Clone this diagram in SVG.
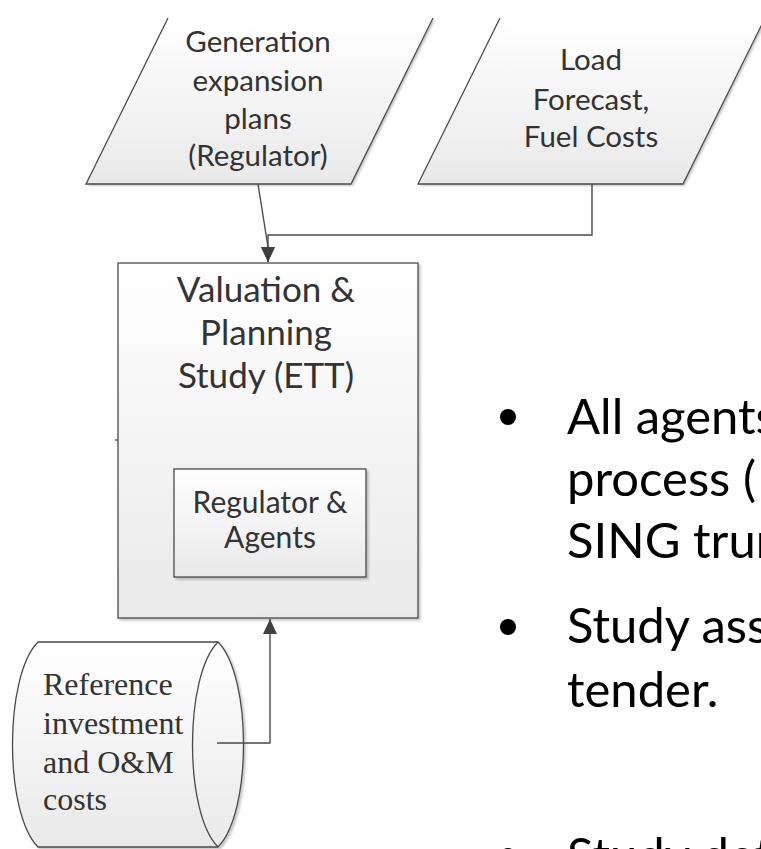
<svg xmlns="http://www.w3.org/2000/svg" width="761" height="849" viewBox="0 0 761 849">
  <style>
    .shape { stroke: #4a4a4a; stroke-width: 1.3; }
    .edge { fill: none; stroke: #4a4a4a; stroke-width: 1.3; }
    .lbl { font-family: Lato, "Open Sans", sans-serif; fill: #333; text-anchor: middle; }
    .p { font-size: 29.5px; }
    .big { font-size: 35px; }
    .mid { font-size: 30px; }
    .serif { font-family: "Liberation Serif", serif; font-size: 32px; fill: #333; }
    .bul { font-family: Lato, "Open Sans", sans-serif; font-size: 49px; fill: #000; }
    .conn { fill: none; stroke: #4a4a4a; stroke-width: 1.4; }
  </style>
  <defs>
    <linearGradient id="fillGrad" x1="0" y1="0" x2="0" y2="1">
      <stop offset="0" stop-color="#ffffff"/>
      <stop offset="1" stop-color="#e9e9e9"/>
    </linearGradient>
    <filter id="shadow" x="-10%" y="-10%" width="130%" height="130%">
      <feDropShadow dx="2" dy="2" stdDeviation="1" flood-color="#000" flood-opacity="0.22"/>
    </filter>
    <marker id="arrow" markerUnits="userSpaceOnUse" markerWidth="16" markerHeight="14" refX="15" refY="7" orient="auto">
      <path d="M0,0 L15,7 L0,14 z" fill="#404040"/>
    </marker>
  </defs>

  <rect width="761" height="849" fill="#fff"/>

  <!-- input: generation expansion plans -->
  <g id="gen-plans">
    <polygon points="168,18 433,18 351,184 86,184" fill="url(#fillGrad)" filter="url(#shadow)"/>
    <path class="edge" d="M168,18 L86,184 L351,184 L433,18"/>
    <text class="lbl p" x="258" y="52">Generation</text>
    <text class="lbl p" x="258" y="91">expansion</text>
    <text class="lbl p" x="258" y="129">plans</text>
    <text class="lbl p" x="258" y="166">(Regulator)</text>
  </g>

  <!-- input: load forecast and fuel costs -->
  <g id="load-fuel">
    <polygon points="500,18 765,18 683,184 418,184" fill="url(#fillGrad)" filter="url(#shadow)"/>
    <path class="edge" d="M500,18 L418,184 L683,184 L765,18"/>
    <text class="lbl p" x="591" y="70">Load</text>
    <text class="lbl p" x="591" y="110">Forecast,</text>
    <text class="lbl p" x="591" y="147">Fuel Costs</text>
  </g>

  <!-- process: valuation & planning study -->
  <g id="ett-study">
    <rect class="shape" x="118" y="263" width="300" height="355" fill="url(#fillGrad)" filter="url(#shadow)"/>
    <line x1="115" y1="440" x2="118" y2="440" stroke="#4a4a4a" stroke-width="1.3"/>
    <text class="lbl big" x="266" y="302">Valuation &amp;</text>
    <text class="lbl big" x="266" y="345">Planning</text>
    <text class="lbl big" x="266" y="388">Study (ETT)</text>
  </g>

  <g id="regulator-agents">
    <rect class="shape" x="174" y="469" width="192" height="108" fill="url(#fillGrad)" filter="url(#shadow)"/>
    <text class="lbl mid" x="270" y="513">Regulator &amp;</text>
    <text class="lbl mid" x="270" y="548">Agents</text>
  </g>

  <!-- stored data: reference costs -->
  <g id="ref-costs">
    <path class="shape" d="M38,642 L218,642 C252,676 252,813 218,847 L38,847 C4,813 4,676 38,642 z" fill="url(#fillGrad)" filter="url(#shadow)"/>
    <path class="edge" d="M218,642 C184,676 184,813 218,847"/>
    <text class="serif" x="43" y="695">Reference</text>
    <text class="serif" x="43" y="734">investment</text>
    <text class="serif" x="43" y="773">and O&amp;M</text>
    <text class="serif" x="43" y="810">costs</text>
  </g>

  <!-- connectors -->
  <g id="connectors">
    <polyline class="conn" points="258,184 268,247 268,262" marker-end="url(#arrow)"/>
    <polyline class="conn" points="592,184 592,235 268,235 268,262" marker-end="url(#arrow)"/>
    <polyline class="conn" points="217,743 270,743 270,619" marker-end="url(#arrow)"/>
  </g>

  <!-- bullet list -->
  <g id="bullets">
    <circle cx="508" cy="417" r="8" fill="#000"/>
    <text class="bul" x="567" y="434">All agents</text>
    <text class="bul" x="567" y="496">process (</text>
    <text class="bul" x="567" y="558">SING trun</text>
    <circle cx="508" cy="627" r="8" fill="#000"/>
    <text class="bul" x="567" y="643">Study ass</text>
    <text class="bul" x="567" y="707">tender.</text>
    <circle cx="508" cy="856" r="8" fill="#000"/>
    <text class="bul" x="567" y="873">Study det</text>
  </g>
</svg>
